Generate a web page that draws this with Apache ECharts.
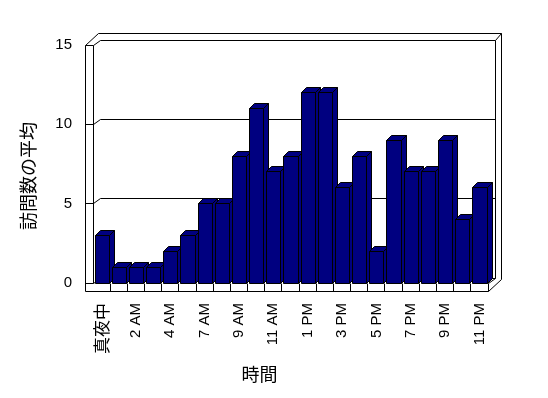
<!DOCTYPE html>
<html>
<head>
<meta charset="utf-8">
<title>訪問数の平均</title>
<script src="https://cdn.jsdelivr.net/npm/echarts@6/dist/echarts.min.js"></script>
<style>
	html, body { margin: 0; padding: 0; background: #fff; }
	#main { width: 548px; height: 398px; }
</style>
</head>
<body>
<div id="main"></div>
<script>
// 時間ごとの訪問数の平均 (5時台 or 6時台のデータなし)
var hours = ['真夜中', '1 AM', '2 AM', '3 AM', '4 AM', '5 AM', '7 AM', '8 AM', '9 AM', '10 AM', '11 AM', '正午',
	'1 PM', '2 PM', '3 PM', '4 PM', '5 PM', '6 PM', '7 PM', '8 PM', '9 PM', '10 PM', '11 PM'];
var visits = [3, 1, 1, 1, 2, 3, 5, 5, 8, 11, 7, 8, 12, 12, 6, 8, 2, 9, 7, 7, 9, 4, 6];
var yTicks = [0, 5, 10, 15];

var myChart = echarts.init(document.getElementById('main'));

var WALL = 8;          // 左壁・床の厚み
var BACK = [7, -5];    // 奥の壁までのずれ
var THICK = [6, -7];   // 奥の壁の厚み
var DEPTH = [5, -5];   // 棒の奥行き
var latin = "'Liberation Sans', Arial, sans-serif";
var jp = "'Noto Sans CJK JP', sans-serif";

function px(v) {
	return Math.round(v - 0.5) + 0.5;
}
function line(points) {
	return {
		type: 'polyline',
		shape: { points: points.map(function(p) { return [px(p[0]), px(p[1])]; }) },
		style: { stroke: '#000', fill: null, lineWidth: 1 },
		silent: true
	};
}

// 壁・床・目盛線
function renderFrame(params, api) {
	var step = api.size([1, 0])[0];
	var c0 = api.coord([0, 0]);
	var L = c0[0] - step / 2;
	var R = L + step * hours.length;
	var Y0 = c0[1];
	var yT = api.coord([0, yTicks[yTicks.length - 1]])[1];
	var bx = BACK[0], by = BACK[1];
	var ox = BACK[0] + THICK[0], oy = BACK[1] + THICK[1];
	var kids = [];
	for (var i = 0; i < yTicks.length; i++) {
		var y = api.coord([0, yTicks[i]])[1];
		kids.push(line([[L - WALL, y], [L, y], [L + bx, y + by], [R + bx, y + by]]));
	}
	kids.push(line([[R + bx, yT + by], [R + bx, Y0 + by]]));
	kids.push(line([[L - WALL, Y0 + WALL], [L - WALL, yT], [L - WALL + ox, yT + oy], [R + ox, yT + oy],
		[R + ox, Y0 + WALL + oy], [R, Y0 + WALL]]));
	kids.push(line([[R + bx, yT + by], [R + ox, yT + oy]]));
	kids.push(line([[L, yT], [L, Y0]]));
	kids.push(line([[L - WALL, Y0 + WALL], [R, Y0 + WALL], [R, Y0], [R + bx, Y0 + by]]));
	for (var k = 1; k < hours.length; k++) {
		kids.push(line([[L + k * step, Y0], [L + k * step, Y0 + WALL]]));
	}
	return { type: 'group', children: kids };
}

// 立体の棒
function renderBar(params, api) {
	var i = api.value(0);
	var top = api.coord([i, api.value(1)]);
	var base = api.coord([i, 0]);
	var step = api.size([1, 0])[0];
	var x0 = px(top[0] - step / 2 + 2), x1 = px(top[0] + step / 2 - 1);
	var yt = px(top[1]), yb = px(base[1]);
	var dx = DEPTH[0], dy = DEPTH[1];
	var st = { fill: '#000080', stroke: '#000', lineWidth: 1 };
	return {
		type: 'group',
		children: [
			{ type: 'polygon', shape: { points: [[x1, yt], [x1 + dx, yt + dy], [x1 + dx, yb + dy], [x1, yb]] }, style: st },
			{ type: 'polygon', shape: { points: [[x0, yt], [x0 + dx, yt + dy], [x1 + dx, yt + dy], [x1, yt]] }, style: st },
			{ type: 'polygon', shape: { points: [[x0, yt], [x1, yt], [x1, yb], [x0, yb]] }, style: st }
		]
	};
}

var option = {
	backgroundColor: '#fff',
	animation: false,
	grid: { left: 93, right: 60, top: 45, bottom: 115 },
	xAxis: {
		type: 'category',
		data: hours,
		name: '時間',
		nameLocation: 'middle',
		nameGap: 82,
		nameTextStyle: { fontSize: 18, fontFamily: jp, color: '#000', padding: [0, 62, 0, 0] },
		axisLine: { show: false },
		axisTick: { show: false },
		axisLabel: {
			interval: 1,
			rotate: 90,
			margin: 20,
			fontSize: 15,
			fontFamily: latin,
			color: '#000',
			formatter: function(v) {
				return /[^\x00-\x7f]/.test(v) ? '{j|' + v + '}' : v;
			},
			rich: { j: { fontSize: 17, fontFamily: jp, color: '#000' } }
		}
	},
	yAxis: {
		type: 'value',
		min: 0,
		max: 15,
		interval: 5,
		name: '訪問数の平均',
		nameLocation: 'middle',
		nameGap: 56,
		nameTextStyle: { fontSize: 18, fontFamily: jp, color: '#000', padding: [0, 24, 0, 0] },
		axisLine: { show: false },
		axisTick: { show: false },
		splitLine: { show: false },
		axisLabel: { margin: 21, fontSize: 15, fontFamily: latin, color: '#000' }
	},
	series: [
		{
			type: 'custom',
			z: 1,
			silent: true,
			renderItem: renderFrame,
			data: [[0, 0]]
		},
		{
			type: 'custom',
			z: 2,
			renderItem: renderBar,
			data: visits.map(function(v, i) { return [i, v]; })
		}
	]
};
myChart.setOption(option);
</script>
</body>
</html>
